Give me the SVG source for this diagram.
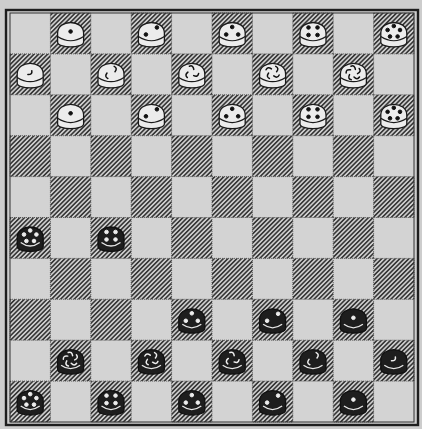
<svg xmlns="http://www.w3.org/2000/svg" xmlns:xlink="http://www.w3.org/1999/xlink" width="422" height="429" viewBox="0 0 422 429">
<defs>
<pattern id="h" width="3.2" height="3.2" patternUnits="userSpaceOnUse" patternTransform="rotate(45)">
<rect width="3.2" height="3.2" fill="#cdcdcd"/>
<line x1="1.6" y1="0" x2="1.6" y2="3.2" stroke="#2e2e2e" stroke-width="1.5"/>
</pattern>
<g id="wp">
<path d="M-13,-2 C-13,-16 13,-16 13,-2 L13,7 C13,13.5 -13,13.5 -13,7 Z" fill="#ececec" stroke="#1a1a1a" stroke-width="1.3"/>
<path d="M-13,1.5 Q0,10 13,1.5" fill="none" stroke="#1a1a1a" stroke-width="1.2"/>
</g>
<g id="bp">
<path d="M-13,-2 C-13,-16 13,-16 13,-2 L13,7 C13,13.5 -13,13.5 -13,7 Z" fill="#1e1e1e" stroke="#111" stroke-width="1.3"/>
<path d="M-9.5,3 Q0,10 9.5,3" fill="none" stroke="#e6e6e6" stroke-width="1.3"/>
</g>
<g id="d1"><circle cx="0" cy="-3.5" r="1.8"/></g>
<g id="d2"><circle cx="5.5" cy="-7.5" r="1.8"/><circle cx="-5.5" cy="-0.5" r="1.8"/></g>
<g id="d3"><circle cx="0" cy="-8" r="1.8"/><circle cx="-6" cy="-0.5" r="1.8"/><circle cx="6" cy="-0.5" r="1.8"/></g>
<g id="d4"><circle cx="-4.5" cy="-7.5" r="1.8"/><circle cx="4.5" cy="-7.5" r="1.8"/><circle cx="-4.5" cy="0" r="1.8"/><circle cx="4.5" cy="0" r="1.8"/></g>
<g id="d5"><circle cx="0" cy="-9" r="1.8"/><circle cx="6.2" cy="-5" r="1.8"/><circle cx="3.8" cy="1.5" r="1.8"/><circle cx="-3.8" cy="1.5" r="1.8"/><circle cx="-6.2" cy="-5" r="1.8"/></g>
<path id="cu" d="M-2.4,-1.2 Q1.4,-2.6 2,2" fill="none" stroke-width="1.5" stroke-linecap="round"/>
<g id="c1"><use xlink:href="#cu" transform="translate(0,-3) rotate(100)"/></g>
<g id="c2"><use xlink:href="#cu" transform="translate(4,-7) rotate(45)"/><use xlink:href="#cu" transform="translate(-4,0) rotate(225)"/></g>
<g id="c3"><use xlink:href="#cu" transform="translate(0,-8.5) rotate(0)"/><use xlink:href="#cu" transform="translate(4.6,-1) rotate(120)"/><use xlink:href="#cu" transform="translate(-4.6,-1) rotate(240)"/></g>
<g id="c4"><use xlink:href="#cu" transform="translate(4,-7) rotate(45)"/><use xlink:href="#cu" transform="translate(4,0) rotate(135)"/><use xlink:href="#cu" transform="translate(-4,0) rotate(225)"/><use xlink:href="#cu" transform="translate(-4,-7) rotate(315)"/></g>
<g id="c5"><use xlink:href="#cu" transform="translate(0,-8.5) rotate(0)"/><use xlink:href="#cu" transform="translate(5.4,-4.8) rotate(72)"/><use xlink:href="#cu" transform="translate(3.4,1.5) rotate(144)"/><use xlink:href="#cu" transform="translate(-3.4,1.5) rotate(216)"/><use xlink:href="#cu" transform="translate(-5.4,-4.8) rotate(288)"/></g>
</defs>
<style>
.d{fill:url(#h);stroke:#444;stroke-width:0.8;stroke-dasharray:1 1}
.wm{fill:#111;stroke:#111}
.bm{fill:#eee;stroke:#eee}
</style>
<rect width="422" height="429" fill="#cdcdcd"/>
<g id="board">
<rect x="10" y="13" width="404" height="409" fill="#d3d3d3"/>
<rect class="d" x="50.4" y="13" width="40.4" height="40.9"/><rect class="d" x="131.2" y="13" width="40.4" height="40.9"/><rect class="d" x="212" y="13" width="40.4" height="40.9"/><rect class="d" x="292.8" y="13" width="40.4" height="40.9"/><rect class="d" x="373.6" y="13" width="40.4" height="40.9"/>
<rect class="d" x="10" y="53.9" width="40.4" height="40.9"/><rect class="d" x="90.8" y="53.9" width="40.4" height="40.9"/><rect class="d" x="171.6" y="53.9" width="40.4" height="40.9"/><rect class="d" x="252.4" y="53.9" width="40.4" height="40.9"/><rect class="d" x="333.2" y="53.9" width="40.4" height="40.9"/>
<rect class="d" x="50.4" y="94.8" width="40.4" height="40.9"/><rect class="d" x="131.2" y="94.8" width="40.4" height="40.9"/><rect class="d" x="212" y="94.8" width="40.4" height="40.9"/><rect class="d" x="292.8" y="94.8" width="40.4" height="40.9"/><rect class="d" x="373.6" y="94.8" width="40.4" height="40.9"/>
<rect class="d" x="10" y="135.7" width="40.4" height="40.9"/><rect class="d" x="90.8" y="135.7" width="40.4" height="40.9"/><rect class="d" x="171.6" y="135.7" width="40.4" height="40.9"/><rect class="d" x="252.4" y="135.7" width="40.4" height="40.9"/><rect class="d" x="333.2" y="135.7" width="40.4" height="40.9"/>
<rect class="d" x="50.4" y="176.6" width="40.4" height="40.9"/><rect class="d" x="131.2" y="176.6" width="40.4" height="40.9"/><rect class="d" x="212" y="176.6" width="40.4" height="40.9"/><rect class="d" x="292.8" y="176.6" width="40.4" height="40.9"/><rect class="d" x="373.6" y="176.6" width="40.4" height="40.9"/>
<rect class="d" x="10" y="217.5" width="40.4" height="40.9"/><rect class="d" x="90.8" y="217.5" width="40.4" height="40.9"/><rect class="d" x="171.6" y="217.5" width="40.4" height="40.9"/><rect class="d" x="252.4" y="217.5" width="40.4" height="40.9"/><rect class="d" x="333.2" y="217.5" width="40.4" height="40.9"/>
<rect class="d" x="50.4" y="258.4" width="40.4" height="40.9"/><rect class="d" x="131.2" y="258.4" width="40.4" height="40.9"/><rect class="d" x="212" y="258.4" width="40.4" height="40.9"/><rect class="d" x="292.8" y="258.4" width="40.4" height="40.9"/><rect class="d" x="373.6" y="258.4" width="40.4" height="40.9"/>
<rect class="d" x="10" y="299.3" width="40.4" height="40.9"/><rect class="d" x="90.8" y="299.3" width="40.4" height="40.9"/><rect class="d" x="171.6" y="299.3" width="40.4" height="40.9"/><rect class="d" x="252.4" y="299.3" width="40.4" height="40.9"/><rect class="d" x="333.2" y="299.3" width="40.4" height="40.9"/>
<rect class="d" x="50.4" y="340.2" width="40.4" height="40.9"/><rect class="d" x="131.2" y="340.2" width="40.4" height="40.9"/><rect class="d" x="212" y="340.2" width="40.4" height="40.9"/><rect class="d" x="292.8" y="340.2" width="40.4" height="40.9"/><rect class="d" x="373.6" y="340.2" width="40.4" height="40.9"/>
<rect class="d" x="10" y="381.1" width="40.4" height="40.9"/><rect class="d" x="90.8" y="381.1" width="40.4" height="40.9"/><rect class="d" x="171.6" y="381.1" width="40.4" height="40.9"/><rect class="d" x="252.4" y="381.1" width="40.4" height="40.9"/><rect class="d" x="333.2" y="381.1" width="40.4" height="40.9"/>
<rect x="10" y="13" width="404" height="409" fill="none" stroke="#333" stroke-width="1"/>
<rect x="6" y="10" width="412" height="415" fill="none" stroke="#1e1e1e" stroke-width="2.4"/>
</g>
<g id="white-pieces">
<g id="w01" transform="translate(70.6,35)"><use xlink:href="#wp"/><use xlink:href="#d1" class="wm"/></g>
<g id="w02" transform="translate(151.4,35)"><use xlink:href="#wp"/><use xlink:href="#d2" class="wm"/></g>
<g id="w03" transform="translate(232.2,35)"><use xlink:href="#wp"/><use xlink:href="#d3" class="wm"/></g>
<g id="w04" transform="translate(313,35)"><use xlink:href="#wp"/><use xlink:href="#d4" class="wm"/></g>
<g id="w05" transform="translate(393.8,35)"><use xlink:href="#wp"/><use xlink:href="#d5" class="wm"/></g>
<g id="w06" transform="translate(30.2,75.9)"><use xlink:href="#wp"/><use xlink:href="#c1" class="wm"/></g>
<g id="w07" transform="translate(111,75.9)"><use xlink:href="#wp"/><use xlink:href="#c2" class="wm"/></g>
<g id="w08" transform="translate(191.8,75.9)"><use xlink:href="#wp"/><use xlink:href="#c3" class="wm"/></g>
<g id="w09" transform="translate(272.6,75.9)"><use xlink:href="#wp"/><use xlink:href="#c4" class="wm"/></g>
<g id="w10" transform="translate(353.4,75.9)"><use xlink:href="#wp"/><use xlink:href="#c5" class="wm"/></g>
<g id="w11" transform="translate(70.6,116.8)"><use xlink:href="#wp"/><use xlink:href="#d1" class="wm"/></g>
<g id="w12" transform="translate(151.4,116.8)"><use xlink:href="#wp"/><use xlink:href="#d2" class="wm"/></g>
<g id="w13" transform="translate(232.2,116.8)"><use xlink:href="#wp"/><use xlink:href="#d3" class="wm"/></g>
<g id="w14" transform="translate(313,116.8)"><use xlink:href="#wp"/><use xlink:href="#d4" class="wm"/></g>
<g id="w15" transform="translate(393.8,116.8)"><use xlink:href="#wp"/><use xlink:href="#d5" class="wm"/></g>
</g>
<g id="black-pieces">
<g id="b01" transform="translate(30.2,239.5)"><use xlink:href="#bp"/><use xlink:href="#d5" class="bm"/></g>
<g id="b02" transform="translate(111,239.5)"><use xlink:href="#bp"/><use xlink:href="#d4" class="bm"/></g>
<g id="b03" transform="translate(191.8,321.3)"><use xlink:href="#bp"/><use xlink:href="#d3" class="bm"/></g>
<g id="b04" transform="translate(272.6,321.3)"><use xlink:href="#bp"/><use xlink:href="#d2" class="bm"/></g>
<g id="b05" transform="translate(353.4,321.3)"><use xlink:href="#bp"/><use xlink:href="#d1" class="bm"/></g>
<g id="b06" transform="translate(70.6,362.2)"><use xlink:href="#bp"/><use xlink:href="#c5" class="bm"/></g>
<g id="b07" transform="translate(151.4,362.2)"><use xlink:href="#bp"/><use xlink:href="#c4" class="bm"/></g>
<g id="b08" transform="translate(232.2,362.2)"><use xlink:href="#bp"/><use xlink:href="#c3" class="bm"/></g>
<g id="b09" transform="translate(313,362.2)"><use xlink:href="#bp"/><use xlink:href="#c2" class="bm"/></g>
<g id="b10" transform="translate(393.8,362.2)"><use xlink:href="#bp"/><use xlink:href="#c1" class="bm"/></g>
<g id="b11" transform="translate(30.2,403.1)"><use xlink:href="#bp"/><use xlink:href="#d5" class="bm"/></g>
<g id="b12" transform="translate(111,403.1)"><use xlink:href="#bp"/><use xlink:href="#d4" class="bm"/></g>
<g id="b13" transform="translate(191.8,403.1)"><use xlink:href="#bp"/><use xlink:href="#d3" class="bm"/></g>
<g id="b14" transform="translate(272.6,403.1)"><use xlink:href="#bp"/><use xlink:href="#d2" class="bm"/></g>
<g id="b15" transform="translate(353.4,403.1)"><use xlink:href="#bp"/><use xlink:href="#d1" class="bm"/></g>
</g>
</svg>
